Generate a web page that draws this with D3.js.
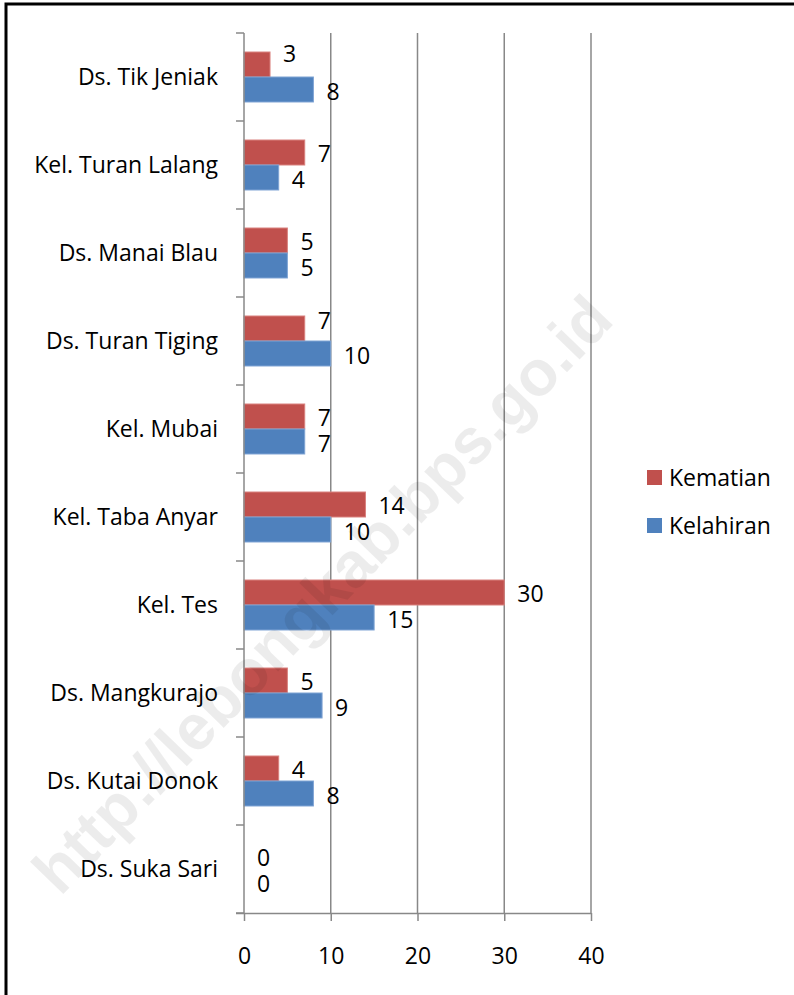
<!DOCTYPE html>
<html><head><meta charset="utf-8">
<script src="https://cdn.jsdelivr.net/npm/d3@7"></script>
<style>html,body{margin:0;padding:0;background:#fff;}svg{display:block;}</style>
</head><body>
<script>
const categories = ["Ds. Tik Jeniak","Kel. Turan Lalang","Ds. Manai Blau","Ds. Turan Tiging","Kel. Mubai","Kel. Taba Anyar","Kel. Tes","Ds. Mangkurajo","Ds. Kutai Donok","Ds. Suka Sari"];
const kematian  = [3, 7, 5, 7, 7, 14, 30, 5, 4, 0];
const kelahiran = [8, 4, 5, 10, 7, 10, 15, 9, 8, 0];
const seriesNames = ["Kematian","Kelahiran"];
const xTicks = [0, 10, 20, 30, 40];
const watermarkText = "http://lebongkab.bps.go.id";

const colors = {Kematian:"#C0504D", Kelahiran:"#4F81BD"};
const strokes = {Kematian:"#D9817E", Kelahiran:"#7FA4D4"};
const labelNudge = {"Ds. Tik Jeniak|Kematian": -12, "Ds. Turan Tiging|Kematian": -9};
const FONT = "'Open Sans', Lato, sans-serif";
const FS = 23;

const W = 794, H = 995;
const svg = d3.select("body").append("svg").attr("width", W).attr("height", H);
svg.append("rect").attr("width", W).attr("height", H).attr("fill", "#fff");

// outer frame (left & top visible)
svg.append("path").attr("d", `M6,${H+5} V4 H${W+5}`).attr("fill","none").attr("stroke","#000").attr("stroke-width",3);

const x = d3.scaleLinear().domain([0, 40]).range([244, 591]);
const y0 = d3.scaleBand().domain(categories).range([33, 913]).padding(0);
const bw = y0.bandwidth();
const y1 = d3.scaleBand().domain(seriesNames).range([bw*0.216, bw*0.784]).padding(0);

const data = categories.map((c, i) => ({cat: c, vals: [{s:"Kematian", v:kematian[i]}, {s:"Kelahiran", v:kelahiran[i]}]}));

// gridlines
svg.append("g").selectAll("line").data(xTicks.filter(t => t > 0)).join("line")
  .attr("x1", d => x(d)).attr("x2", d => x(d)).attr("y1", 33).attr("y2", 913)
  .attr("stroke", "#888").attr("stroke-width", 1.5);

// bars
const g = svg.append("g");
const groups = g.selectAll("g").data(data).join("g").attr("transform", d => `translate(0,${y0(d.cat)})`);
groups.selectAll("rect").data(d => d.vals.filter(v => v.v > 0)).join("rect")
  .attr("x", x(0)).attr("y", d => y1(d.s)).attr("width", d => x(d.v) - x(0)).attr("height", y1.bandwidth())
  .attr("fill", d => colors[d.s]).attr("stroke", d => strokes[d.s]).attr("stroke-width", 1);

// value labels
groups.selectAll("text").data(d => d.vals.map(v => ({...v, cat: d.cat}))).join("text")
  .attr("x", d => x(d.v) + 13)
  .attr("y", d => y1(d.s) + y1.bandwidth()/2 + (d.s === "Kematian" ? 1 : 2) + (labelNudge[d.cat + "|" + d.s] || 0))
  .attr("dy", "0.36em")
  .attr("font-family", FONT).attr("font-size", FS).attr("fill", "#000")
  .text(d => d.v);

// y axis
const yAxis = d3.axisLeft(y0).tickSize(0).tickPadding(26);
const ya = svg.append("g").attr("transform", `translate(${x(0)},0)`).call(yAxis);
ya.select(".domain").remove();
ya.selectAll("text").attr("font-family", FONT).attr("font-size", FS).attr("fill", "#000").attr("dy","0.36em");
// category boundary ticks
const bounds = categories.map(c => y0(c)).concat([913]);
svg.append("g").selectAll("line").data(bounds).join("line")
  .attr("x1", x(0) - 8).attr("x2", x(0)).attr("y1", d => d).attr("y2", d => d)
  .attr("stroke", "#888").attr("stroke-width", 1.5);
svg.append("line").attr("x1", x(0)).attr("x2", x(0)).attr("y1", 33).attr("y2", 913).attr("stroke", "#888").attr("stroke-width", 1.5);

// x axis
const xAxis = d3.axisBottom(x).tickValues(xTicks).tickSize(8).tickPadding(27);
const xa = svg.append("g").attr("transform", `translate(0,913)`).call(xAxis);
xa.select(".domain").attr("d", `M${x(0)-8},0.5H${x(40)}`).attr("stroke", "#888").attr("stroke-width", 1.5);
xa.selectAll(".tick line").attr("stroke", "#888").attr("stroke-width", 1.5);
xa.selectAll("text").attr("font-family", FONT).attr("font-size", FS).attr("fill", "#000");

// legend
const lg = svg.append("g");
seriesNames.forEach((s, i) => {
  const yy = 470 + i * 48;
  lg.append("rect").attr("x", 647).attr("y", yy).attr("width", 15).attr("height", 15).attr("fill", colors[s]);
  lg.append("text").attr("x", 669).attr("y", yy + 7.5).attr("dy", "0.36em")
    .attr("font-family", FONT).attr("font-size", FS).attr("fill", "#000").text(s);
});

// watermark
svg.append("text").attr("transform", "translate(322,594) rotate(-46)")
  .attr("text-anchor", "middle").attr("dy", "0.35em")
  .attr("font-family", "'Liberation Sans', Arial, sans-serif").attr("font-weight", "bold").attr("font-size", 64)
  .attr("fill", "#000").attr("fill-opacity", 0.075).text(watermarkText);
</script>
</body></html>
